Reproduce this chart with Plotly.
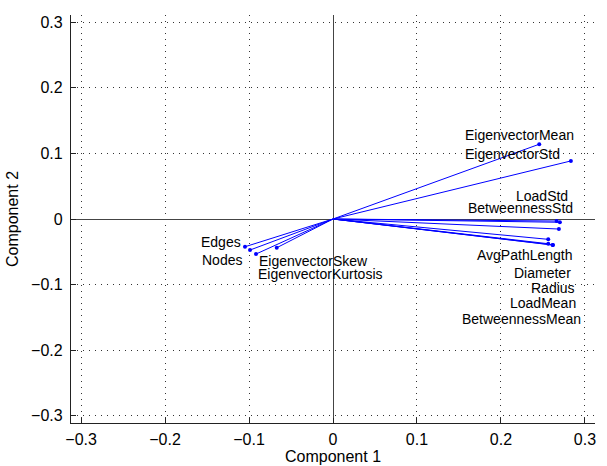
import plotly.graph_objects as go

variables = ["Edges", "Nodes", "EigenvectorSkew", "EigenvectorKurtosis",
             "EigenvectorMean", "EigenvectorStd", "LoadStd", "BetweennessStd",
             "AvgPathLength", "Diameter", "Radius", "LoadMean", "BetweennessMean"]
comp1 = [-0.1048, -0.0988, -0.0917, -0.0670,
         0.2456, 0.2833, 0.2663, 0.2702,
         0.2690, 0.2563, 0.2563, 0.2615, 0.2620]
comp2 = [-0.0423, -0.0473, -0.0534, -0.0438,
         0.1140, 0.0885, -0.0031, -0.0050,
         -0.0153, -0.0310, -0.0377, -0.0397, -0.0395]

# label anchor positions (data coords) and anchors
label_x = [-0.1087, -0.1071, -0.0896, -0.0905,
           0.2880, 0.2711, 0.2806, 0.2873,
           0.2869, 0.2842, 0.2889, 0.2901, 0.2964]
label_y = [-0.0347, -0.0626, -0.0637, -0.0840,
           0.1280, 0.0988, 0.0351, 0.0163,
           -0.0550, -0.0824, -0.1053, -0.1282, -0.1527]
label_anchor = ["right", "right", "left", "left"] + ["right"] * 9

ticks = [-0.3, -0.2, -0.1, 0, 0.1, 0.2, 0.3]
tick_text = ["\u22120.3", "\u22120.2", "\u22120.1", "0", "0.1", "0.2", "0.3"]

FONT = "Liberation Sans, Arial, Helvetica, sans-serif"

lx, ly = [], []
for a, b in zip(comp1, comp2):
    lx += [0, a, None]
    ly += [0, b, None]

fig = go.Figure()
fig.add_trace(go.Scatter(x=lx, y=ly, mode="lines",
                         line=dict(color="#0000ff", width=1), hoverinfo="skip",
                         showlegend=False))
fig.add_trace(go.Scatter(x=comp1, y=comp2, mode="markers", text=variables,
                         marker=dict(color="#0000ff", size=4), showlegend=False))

for name, x, y, anc in zip(variables, label_x, label_y, label_anchor):
    fig.add_annotation(x=x, y=y, text=name, showarrow=False, xanchor=anc,
                       yanchor="middle", borderpad=0,
                       font=dict(family=FONT, size=14, color="black"))

axis_common = dict(
    tickvals=ticks, ticktext=tick_text, showgrid=True, gridcolor="#333333",
    gridwidth=1, griddash="1px,5px", zeroline=True, zerolinecolor="#444444",
    zerolinewidth=1.3, showline=True, linecolor="#222222", linewidth=1.3,
    mirror=False, ticks="inside", ticklen=5, tickcolor="#222222",
    tickfont=dict(family=FONT, size=16, color="black"), automargin=False,
)

fig.update_layout(
    width=607, height=466,
    margin=dict(l=71, r=12, t=15, b=43),
    paper_bgcolor="white", plot_bgcolor="white",
    xaxis=dict(range=[-0.312, 0.312], ticklabelstandoff=2,
               title=dict(text="Component 1", standoff=2,
               font=dict(family=FONT, size=16, color="black")), **axis_common),
    yaxis=dict(range=[-0.311, 0.311], ticklabelstandoff=4,
               title=dict(text="Component 2", standoff=8,
               font=dict(family=FONT, size=16, color="black")), **axis_common),
)

fig.write_html("out.html")
